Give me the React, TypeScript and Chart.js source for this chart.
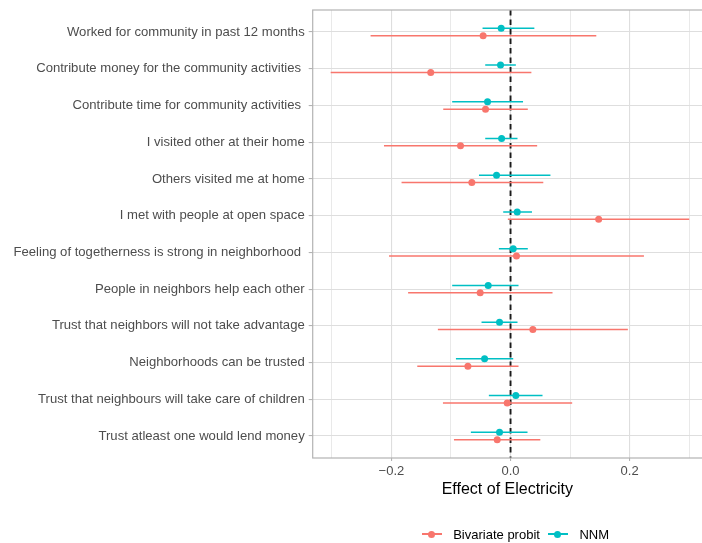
import React, { useEffect, useRef } from "react";
import { Chart, registerables } from "chart.js";

Chart.register(...registerables);

const categories = [
  "Worked for community in past 12 months",
  "Contribute money for the community activities ",
  "Contribute time for community activities ",
  "I visited other at their home",
  "Others visited me at home",
  "I met with people at open space",
  "Feeling of togetherness is strong in neighborhood ",
  "People in neighbors help each other",
  "Trust that neighbors will not take advantage",
  "Neighborhoods can be trusted",
  "Trust that neighbours will take care of children",
  "Trust atleast one would lend money",
];
const seriesNames = ["Bivariate probit", "NNM"];
const bivariateEst = [-0.046, -0.134, -0.042, -0.084, -0.065, 0.148, 0.01, -0.051, 0.0375, -0.0716, -0.0056, -0.0224];
const bivariateLo = [-0.235, -0.302, -0.113, -0.2125, -0.183, -0.0045, -0.204, -0.172, -0.122, -0.1566, -0.1135, -0.095];
const bivariateHi = [0.144, 0.035, 0.029, 0.0447, 0.055, 0.3, 0.224, 0.0705, 0.197, 0.0134, 0.1035, 0.05];
const nnmEst = [-0.0157, -0.0168, -0.0386, -0.015, -0.0235, 0.0112, 0.0045, -0.0375, -0.0185, -0.0436, 0.0089, -0.0185];
const nnmLo = [-0.047, -0.0425, -0.098, -0.0425, -0.053, -0.0123, -0.0196, -0.098, -0.0487, -0.0917, -0.0364, -0.0666];
const nnmHi = [0.04, 0.0089, 0.021, 0.0117, 0.067, 0.036, 0.029, 0.0134, 0.0117, 0.0045, 0.0537, 0.0285];
const xTicks = [-0.3, -0.2, -0.1, 0, 0.1, 0.2, 0.3];
const xLabelledTicks = [-0.2, 0, 0.2];
const xLabels = ["\u22120.2", "0.0", "0.2"];
const xTitle = "Effect of Electricity";

const seriesColors = ["#F8766D", "#00BFC4"];
const FONT = "'Liberation Sans', Arial, Helvetica, sans-serif";
const DODGE = 0.1;

const isMajor = (v: number) => xLabelledTicks.some((t) => Math.abs(t - v) < 1e-9);

const ggPlugin = {
  id: "ggextras",
  beforeDatasetsDraw(chart: any) {
    const { ctx, chartArea: a, scales } = chart;
    const x = scales.x;
    const y = scales.y;
    ctx.save();
    ctx.beginPath();
    ctx.rect(a.left, a.top, a.right - a.left, a.bottom - a.top);
    ctx.clip();
    const zx = x.getPixelForValue(0);
    ctx.save();
    ctx.strokeStyle = "#1a1a1a";
    ctx.lineWidth = 1.9;
    ctx.setLineDash([5.5, 4]);
    ctx.beginPath();
    ctx.moveTo(zx, a.top);
    ctx.lineTo(zx, a.bottom);
    ctx.stroke();
    ctx.restore();
    chart.data.datasets.forEach((ds: any) => {
      ctx.strokeStyle = ds.backgroundColor;
      ctx.lineWidth = 1.5;
      ds.data.forEach((p: any, i: number) => {
        const py = y.getPixelForValue(p.y);
        ctx.beginPath();
        ctx.moveTo(x.getPixelForValue(ds.lo[i]), py);
        ctx.lineTo(x.getPixelForValue(ds.hi[i]), py);
        ctx.stroke();
      });
    });
    ctx.restore();
  },
  afterDraw(chart: any) {
    const { ctx, chartArea: a } = chart;
    ctx.save();
    ctx.strokeStyle = "#B3B3B3";
    ctx.lineWidth = 1.2;
    ctx.strokeRect(a.left, a.top, a.right - a.left + 4, a.bottom - a.top);
    ctx.restore();
  },
};

export default function App() {
  const ref = useRef<HTMLCanvasElement | null>(null);

  useEffect(() => {
    if (!ref.current) return;
    const chart = new Chart(ref.current, {
      type: "scatter",
      data: {
        datasets: [
          {
            label: seriesNames[0],
            data: bivariateEst.map((v, i) => ({ x: v, y: i + DODGE })),
            lo: bivariateLo,
            hi: bivariateHi,
            backgroundColor: seriesColors[0],
            borderWidth: 0,
            pointRadius: 3.5,
          } as any,
          {
            label: seriesNames[1],
            data: nnmEst.map((v, i) => ({ x: v, y: i - DODGE })),
            lo: nnmLo,
            hi: nnmHi,
            backgroundColor: seriesColors[1],
            borderWidth: 0,
            pointRadius: 3.5,
          } as any,
        ],
      },
      options: {
        animation: false,
        responsive: false,
        layout: { autoPadding: false, padding: { left: 0, right: 0, top: 10, bottom: 44 } },
        plugins: { legend: { display: false }, tooltip: { enabled: false } },
        scales: {
          x: {
            type: "linear",
            min: -0.3322,
            max: 0.3215,
            afterBuildTicks: (s: any) => {
              s.ticks = xTicks.map((v) => ({ value: v }));
            },
            afterFit: (s: any) => {
              s.height = 41;
              s.paddingLeft = 0;
              s.paddingRight = 0;
            },
            ticks: {
              autoSkip: false,
              maxRotation: 0,
              padding: 3,
              color: "#4D4D4D",
              font: { family: FONT, size: 13 },
              callback: (v: any) => {
                const k = xLabelledTicks.findIndex((t) => Math.abs(t - v) < 1e-9);
                return k >= 0 ? xLabels[k] : "";
              },
            },
            grid: {
              color: (c: any) => (c.tick && isMajor(c.tick.value) ? "#DEDEDE" : "#E6E6E6"),
              lineWidth: (c: any) => (c.tick && isMajor(c.tick.value) ? 1.1 : 0.9),
              tickLength: 3,
              tickColor: (c: any) => (c.tick && isMajor(c.tick.value) ? "#B3B3B3" : "rgba(0,0,0,0)"),
            },
            border: { display: false },
            title: {
              display: true,
              text: xTitle,
              color: "#000",
              font: { family: FONT, size: 16 },
              padding: 0,
            },
          },
          y: {
            type: "linear",
            reverse: true,
            min: -0.6,
            max: categories.length - 0.4,
            afterBuildTicks: (s: any) => {
              s.ticks = categories.map((_, i) => ({ value: i }));
            },
            afterFit: (s: any) => {
              s.width = 312.7;
              s.paddingTop = 0;
              s.paddingBottom = 0;
            },
            ticks: {
              autoSkip: false,
              padding: 4,
              color: "#4D4D4D",
              font: { family: FONT, size: 13.1 },
              callback: (v: any) => categories[Math.round(v)] ?? "",
            },
            grid: {
              color: "#DEDEDE",
              lineWidth: 1.1,
              tickLength: 4,
              tickColor: "#B3B3B3",
            },
            border: { display: false },
          },
        },
      } as any,
      plugins: [ggPlugin],
    });
    return () => chart.destroy();
  }, []);

  return (
    <div style={{ position: "fixed", left: 0, top: 0, width: 702, height: 543, background: "#fff" }}>
      <canvas ref={ref} width={702} height={543} style={{ display: "block", width: 702, height: 543 }} />
      <div
        style={{
          position: "absolute",
          left: 421.7,
          top: 526,
          height: 16,
          display: "flex",
          alignItems: "center",
          fontFamily: FONT,
          fontSize: 13,
          color: "#000",
          whiteSpace: "nowrap",
        }}
      >
        {seriesNames.map((n, i) => (
          <div key={n} style={{ display: "flex", alignItems: "center", marginRight: 8 }}>
            <span style={{ position: "relative", display: "inline-block", width: 20, height: 8, marginRight: 11.5 }}>
              <span
                style={{ position: "absolute", left: 0, right: 0, top: 3.25, height: 1.5, background: seriesColors[i] }}
              />
              <span
                style={{
                  position: "absolute",
                  left: 6.5,
                  top: 0.5,
                  width: 7,
                  height: 7,
                  borderRadius: "50%",
                  background: seriesColors[i],
                }}
              />
            </span>
            <span>{n}</span>
          </div>
        ))}
      </div>
    </div>
  );
}
